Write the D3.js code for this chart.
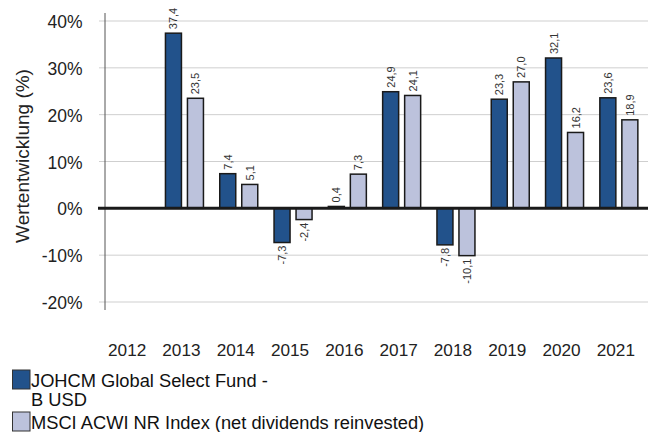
<!DOCTYPE html>
<html>
<head>
<meta charset="utf-8">
<script src="https://cdn.jsdelivr.net/npm/d3@7"></script>
<style>
  body { margin: 0; background: #fff; }
  svg { display: block; font-family: "Liberation Sans", Arial, sans-serif; }
</style>
</head>
<body>
<svg id="chart" width="648" height="432"></svg>
<script>
const years = ["2012", "2013", "2014", "2015", "2016", "2017", "2018", "2019", "2020", "2021"];
const fundValues = [null, 37.4, 7.4, -7.3, 0.4, 24.9, -7.8, 23.3, 32.1, 23.6];
const indexValues = [null, 23.5, 5.1, -2.4, 7.3, 24.1, -10.1, 27.0, 16.2, 18.9];
const yTicks = [-20, -10, 0, 10, 20, 30, 40];
const seriesNames = ["JOHCM Global Select Fund -\nB USD", "MSCI ACWI NR Index (net dividends reinvested)"];
const seriesColors = ["#22528b", "#bcc2dc"];

const svg = d3.select("#chart");

const x = d3.scaleBand().domain(years).range([103, 646]).paddingInner(0).paddingOuter(0);
const y = d3.scaleLinear().domain([-20, 40]).range([302, 21]);

const barW = 16, gap = 6;
const fmt = (v) => v.toFixed(1).replace(".", ",");

// gridlines
svg.append("g")
  .selectAll("line")
  .data(yTicks.filter((d) => d !== 0))
  .join("line")
  .attr("x1", 99)
  .attr("x2", 648)
  .attr("y1", (d) => y(d))
  .attr("y2", (d) => y(d))
  .attr("stroke", "#cfcfcf")
  .attr("stroke-width", 1);

// y axis line
svg.append("line")
  .attr("x1", 105).attr("x2", 105)
  .attr("y1", 13).attr("y2", 310)
  .attr("stroke", "#555").attr("stroke-width", 1);

// tick labels
svg.append("g")
  .selectAll("text")
  .data(yTicks)
  .join("text")
  .attr("x", 82.5)
  .attr("y", (d) => y(d) + 7)
  .attr("text-anchor", "end")
  .attr("font-size", 17.5)
  .attr("fill", "#222")
  .text((d) => d + "%");

// y title
svg.append("text")
  .attr("transform", "translate(29,156) rotate(-90)")
  .attr("text-anchor", "middle")
  .attr("font-size", 19)
  .attr("fill", "#222")
  .text("Wertentwicklung (%)");

// bars
const series = [fundValues, indexValues];
series.forEach((vals, si) => {
  const data = years.map((yr, i) => ({ yr, v: vals[i] })).filter((d) => d.v !== null);
  const cx = (d) => x(d.yr) + x.bandwidth() / 2 + (si === 0 ? -gap / 2 - barW : gap / 2);

  svg.append("g")
    .selectAll("rect")
    .data(data)
    .join("rect")
    .attr("x", (d) => cx(d))
    .attr("y", (d) => y(Math.max(0, d.v)))
    .attr("width", barW)
    .attr("height", (d) => Math.abs(y(d.v) - y(0)))
    .attr("fill", seriesColors[si])
    .attr("stroke", "#1a1a1a")
    .attr("stroke-width", 1.5);

  svg.append("g")
    .selectAll("text")
    .data(data)
    .join("text")
    .attr("transform", (d) => {
      const tx = cx(d) + barW / 2 + 4;
      const ty = d.v >= 0 ? y(d.v) - 4 : y(d.v) + 3;
      return `translate(${tx},${ty}) rotate(-90)`;
    })
    .attr("text-anchor", (d) => (d.v >= 0 ? "start" : "end"))
    .attr("font-size", 11)
    .attr("fill", "#333")
    .text((d) => fmt(d.v));
});

// zero line
svg.append("line")
  .attr("x1", 98).attr("x2", 648)
  .attr("y1", y(0)).attr("y2", y(0))
  .attr("stroke", "#1a1a1a").attr("stroke-width", 3);

// year labels
svg.append("g")
  .selectAll("text")
  .data(years)
  .join("text")
  .attr("x", (d) => x(d) + x.bandwidth() / 2 - 3)
  .attr("y", 355.5)
  .attr("text-anchor", "middle")
  .attr("font-size", 17.2)
  .attr("fill", "#222")
  .text((d) => d);

// legend
const legendRows = [
  { y: 370, color: seriesColors[0], lines: seriesNames[0].split("\n") },
  { y: 412, color: seriesColors[1], lines: seriesNames[1].split("\n") },
];
legendRows.forEach((row) => {
  svg.append("rect")
    .attr("x", 12.5).attr("y", row.y)
    .attr("width", 17.5).attr("height", 19)
    .attr("fill", row.color)
    .attr("stroke", "#333").attr("stroke-width", 1);
  row.lines.forEach((ln, i) => {
    svg.append("text")
      .attr("x", 31)
      .attr("y", row.y + 16.5 + i * 19.5)
      .attr("font-size", 18.3)
      .attr("fill", "#111")
      .text(ln);
  });
});
</script>
</body>
</html>
